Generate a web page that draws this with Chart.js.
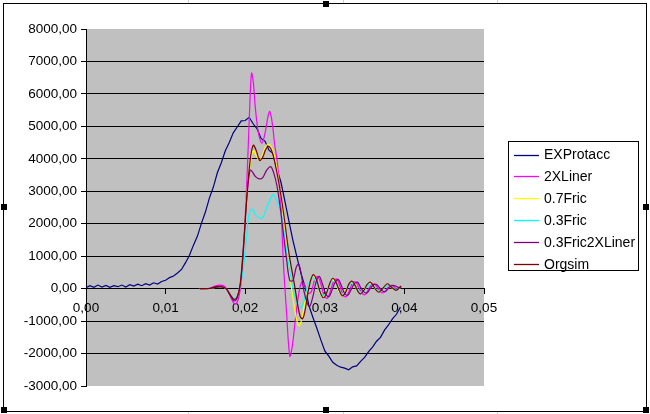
<!DOCTYPE html>
<html>
<head>
<meta charset="utf-8">
<script src="https://cdn.jsdelivr.net/npm/chart.js@4.4.1/dist/chart.umd.min.js"></script>
<style>
  html, body { margin: 0; padding: 0; background: #fff; }
  canvas { display: block; }
</style>
</head>
<body>
<canvas id="c" width="650" height="414"></canvas>
<script>
// ---------- data ----------
const seriesNames = ["EXProtacc", "2XLiner", "0.7Fric", "0.3Fric", "0.3Fric2XLiner", "Orgsim"];
const seriesColors = ["#000080", "#FF00FF", "#FFFF00", "#00FFFF", "#800080", "#800000"];

const yTickMin = -3000, yTickMax = 8000, yTickStep = 1000;
const xTickMin = 0, xTickMax = 0.05, xTickStep = 0.01;

const expT = [0,0.0005,0.001,0.0015,0.002,0.0025,0.003,0.0035,0.004,0.0045,0.005,0.0055,0.006,0.0065,0.007,0.0075,0.008,0.0085,0.009,0.0095,
  0.01,0.0105,0.011,0.0115,0.012,0.0125,0.013,0.0135,0.014,0.0145,0.015,0.0155,0.016,0.0165,0.017,0.0175,0.018,0.0185,0.019,0.0195,
  0.02,0.0205,0.021,0.0215,0.022,0.0225,0.023,0.0235,0.024,0.0245,0.025,0.0255,0.026,0.0265,0.027,0.0275,0.028,0.0285,0.029,0.0295,
  0.03,0.0305,0.031,0.0315,0.032,0.0325,0.033,0.0335,0.034,0.0345,0.035,0.0355,0.036,0.0365,0.037,0.0375,0.038,0.0385,0.039,0.0395];
const expY = [30,90,40,110,50,100,40,90,60,110,50,120,80,140,90,150,110,180,140,220,
  260,340,390,480,590,800,1030,1340,1620,2010,2360,2790,3130,3570,3880,4250,4500,4800,4980,5170,
  5180,5280,5080,4920,4630,4540,4260,4170,3680,3270,2680,2070,1480,970,480,70,-520,-880,-1220,-1580,
  -1920,-2080,-2270,-2360,-2420,-2450,-2500,-2410,-2380,-2240,-2120,-1940,-1800,-1620,-1500,-1280,-1120,-930,-790,-570];

const linerT = [0.0143,0.0155,0.0162,0.0168,0.0173,0.0178,0.0183,0.0187,0.0191,0.0195,0.0198,0.0201,0.0204,0.0206,0.0208,0.0210,0.0213,0.0217,0.0221,0.0225,
  0.0229,0.0231,0.0234,0.0237,0.0240,0.0244,0.0248,0.0252,0.0256,0.0259,0.0263,0.0267,0.0271,0.0275,0.0279,0.0283,0.0287,0.0291,0.0295,0.0299,
  0.0303,0.0307,0.0311,0.0315,0.0319,0.0323,0.0327,0.0331,0.0335,0.0339,0.0343,0.0347,0.0351,0.0355,0.0359,0.0363,0.0367,0.0371,0.0375,0.0379,
  0.0383,0.0387,0.0391,0.0394,0.0396];
const linerY = [0,10,80,110,90,-50,-330,-480,-350,200,1300,2700,4500,5800,6640,6400,5500,4750,4480,4800,
  5350,5460,5100,4450,3950,2950,800,-750,-2080,-1800,-950,-200,200,100,-150,-100,250,380,150,-200,
  -300,-80,220,300,80,-200,-250,-50,180,200,20,-150,-180,-20,130,130,0,-120,-110,20,
  100,60,-30,20,60];

const fric07T = [0.0143,0.0155,0.0163,0.0170,0.0176,0.0181,0.0186,0.0190,0.0194,0.0198,0.0202,0.0206,0.0210,0.0214,0.0218,0.0222,0.0226,0.0230,0.0234,0.0238,
  0.0242,0.0246,0.0250,0.0254,0.0258,0.0262,0.0265,0.0268,0.0271,0.0275,0.0279,0.0283,0.0286,0.0290,0.0294,0.0298,0.0302,0.0306,0.0310,0.0314,
  0.0318,0.0322,0.0326,0.0330,0.0334,0.0338,0.0342,0.0346,0.0350,0.0354,0.0358,0.0362,0.0366,0.0370,0.0374,0.0378,0.0382,0.0386,0.0390,0.0394,0.0396];
const fric07Y = [0,5,45,55,0,-170,-300,-230,180,1350,2900,3800,4250,4100,3950,4150,4400,4450,4300,3950,
  3350,2650,1830,900,50,-600,-1000,-1150,-950,-400,100,350,380,150,-150,-250,-100,150,270,130,
  -100,-180,-60,120,200,60,-80,-130,0,130,150,30,-70,-80,30,110,80,-10,-40,30,50];

const fric03T = [0.0143,0.0155,0.0163,0.0170,0.0176,0.0181,0.0186,0.0190,0.0194,0.0198,0.0202,0.0205,0.0209,0.0214,0.0221,0.0228,0.0235,0.0240,0.0245,0.0249,
  0.0253,0.0257,0.0261,0.0265,0.0269,0.0273,0.0277,0.0281,0.0285,0.0289,0.0293,0.0297,0.0301,0.0305,0.0309,0.0313,0.0317,0.0321,0.0325,0.0329,
  0.0333,0.0337,0.0341,0.0345,0.0349,0.0353,0.0357,0.0361,0.0365,0.0369,0.0373,0.0377,0.0381,0.0385,0.0389,0.0393,0.0396];
const fric03Y = [0,5,40,50,0,-170,-300,-230,100,700,1700,2300,2450,2250,2170,2550,2890,2700,2300,1700,
  1000,400,-100,-450,-600,-450,-50,250,350,200,-50,-200,-150,50,220,180,0,-150,-130,40,
  160,120,-20,-110,-70,60,130,80,-30,-70,-20,70,90,30,-20,10,40];

const fric03LinerT = [0.0143,0.0155,0.0163,0.0170,0.0176,0.0181,0.0186,0.0190,0.0194,0.0198,0.0202,0.0206,0.0209,0.0213,0.0218,0.0222,0.0227,0.0232,0.0236,0.0240,
  0.0244,0.0248,0.0252,0.0256,0.0260,0.0264,0.0267,0.0270,0.0274,0.0278,0.0281,0.0285,0.0289,0.0293,0.0297,0.0301,0.0305,0.0309,0.0313,0.0317,
  0.0321,0.0325,0.0329,0.0333,0.0337,0.0341,0.0345,0.0349,0.0353,0.0357,0.0361,0.0365,0.0369,0.0373,0.0377,0.0381,0.0385,0.0389,0.0393,0.0396];
const fric03LinerY = [0,5,60,70,0,-200,-380,-280,200,1400,2800,3650,3600,3450,3380,3420,3650,3760,3550,3150,
  2500,1700,900,250,250,650,760,500,-100,-450,-550,-250,200,380,150,-150,-250,-50,200,280,
  80,-150,-200,-30,150,200,40,-100,-130,0,120,130,20,-80,-70,40,100,80,30,60];

const orgT = [0.0143,0.0155,0.0163,0.0170,0.0176,0.0181,0.0186,0.0190,0.0194,0.0198,0.0202,0.0206,0.0210,0.0214,0.0218,0.0222,0.0226,0.0230,0.0234,0.0238,
  0.0242,0.0246,0.0250,0.0254,0.0258,0.0262,0.0266,0.0269,0.0272,0.0275,0.0279,0.0283,0.0286,0.0290,0.0294,0.0298,0.0302,0.0306,0.0310,0.0314,
  0.0318,0.0322,0.0326,0.0330,0.0334,0.0338,0.0342,0.0345,0.0349,0.0353,0.0357,0.0361,0.0365,0.0368,0.0372,0.0376,0.0379,0.0383,0.0387,0.0390,0.0394,0.0396];
const orgY = [0,5,40,50,0,-180,-330,-250,150,1300,2800,3900,4420,4250,3950,4050,4300,4380,4200,3800,
  3300,2700,2000,1250,650,100,-500,-850,-930,-700,-100,320,430,250,-100,-280,-150,150,320,200,
  -50,-220,-120,130,230,100,-100,-160,-50,120,200,80,-60,-110,-20,100,150,60,-20,-50,40,80];

const seriesT = [expT, linerT, fric07T, fric03T, fric03LinerT, orgT];
const seriesY = [expY, linerY, fric07Y, fric03Y, fric03LinerY, orgY];

// ---------- helpers ----------
const fmt = v => Number(v).toFixed(2).replace('.', ',');
const pts = (xs, ys) => xs.map((x, i) => ({ x: x, y: ys[i] }));

const datasets = seriesNames.map((name, i) => ({
  label: name,
  data: pts(seriesT[i], seriesY[i]),
  borderColor: seriesColors[i],
  backgroundColor: seriesColors[i],
  borderWidth: 1.2,
  pointRadius: 0,
  fill: false,
  tension: i === 0 ? 0 : 0.35,
  order: seriesNames.length - 1 - i
}));

const FONT = "'Liberation Sans', Arial, sans-serif";

const backgroundPlugin = {
  id: 'bg',
  beforeDraw(chart) {
    const { ctx, chartArea: a } = chart;
    ctx.save();
    ctx.fillStyle = '#ffffff';
    ctx.fillRect(0, 0, chart.width, chart.height);
    ctx.fillStyle = '#C0C0C0';
    ctx.fillRect(a.left, a.top, a.right - a.left, a.bottom - a.top);
    ctx.restore();
  }
};

const legendFramePlugin = {
  id: 'legendFrame',
  afterDraw(chart) {
    const ctx = chart.ctx;
    ctx.save();
    ctx.strokeStyle = '#000';
    ctx.lineWidth = 1;
    ctx.strokeRect(508.5, 141.5, 130, 129);
    ctx.font = "14px " + FONT;
    ctx.textBaseline = 'middle';
    ctx.textAlign = 'left';
    chart.data.datasets.forEach((ds, i) => {
      const y = 154.5 + i * 21.9;
      ctx.strokeStyle = ds.borderColor;
      ctx.lineWidth = 1.3;
      ctx.beginPath();
      ctx.moveTo(514, Math.round(y) + 0.5);
      ctx.lineTo(539, Math.round(y) + 0.5);
      ctx.stroke();
      ctx.fillStyle = '#000';
      ctx.fillText(ds.label, 544, y + 1);
    });
    ctx.strokeStyle = '#000';
    ctx.lineWidth = 1;
    ctx.strokeRect(3.5, 3.5, 643, 408);
    ctx.fillStyle = '#000';
    [[326, 4], [4, 207], [646, 207], [4, 410], [326, 410], [646, 410]].forEach(([hx, hy]) => {
      ctx.fillRect(hx - 3, hy - 3, 6, 6);
    });
    ctx.strokeStyle = '#cfcfcf';
    [188.5, 343.5, 497.5].forEach(x => {
      ctx.beginPath(); ctx.moveTo(x, 0); ctx.lineTo(x, 3); ctx.stroke();
      ctx.beginPath(); ctx.moveTo(x, 412); ctx.lineTo(x, 414); ctx.stroke();
    });
    ctx.restore();
  }
};

new Chart(document.getElementById('c'), {
  type: 'line',
  data: { datasets: datasets },
  options: {
    responsive: false,
    animation: false,
    events: [],
    layout: { padding: { left: 0, right: 166, top: 29, bottom: 28 } },
    plugins: { legend: { display: false }, tooltip: { enabled: false } },
    scales: {
      x: {
        type: 'linear',
        position: { y: 0 },
        min: xTickMin, max: xTickMax,
        ticks: {
          stepSize: xTickStep,
          callback: v => fmt(v),
          color: '#000',
          font: { family: FONT, size: 13.5 },
          padding: 7,
          maxRotation: 0,
          autoSkip: false
        },
        grid: { drawOnChartArea: false, drawTicks: true, tickLength: 5, color: '#000' },
        border: { display: true, color: '#000', width: 1 },
        afterFit(s) { s.paddingLeft = 0; s.paddingRight = 0; }
      },
      y: {
        type: 'linear',
        min: yTickMin, max: yTickMax,
        ticks: {
          stepSize: yTickStep,
          callback: v => fmt(v),
          color: '#000',
          font: { family: FONT, size: 13.5 },
          padding: 4
        },
        grid: {
          color: c => (c.tick && (c.tick.value === yTickMin || c.tick.value === yTickMax)) ? 'rgba(0,0,0,0)' : '#000',
          tickColor: '#000',
          tickLength: 5,
          lineWidth: 1
        },
        border: { display: true, color: '#000', width: 1 },
        afterFit(s) { s.width = 86; s.paddingTop = 0; s.paddingBottom = 0; }
      }
    }
  },
  plugins: [backgroundPlugin, legendFramePlugin]
});
</script>
</body>
</html>
